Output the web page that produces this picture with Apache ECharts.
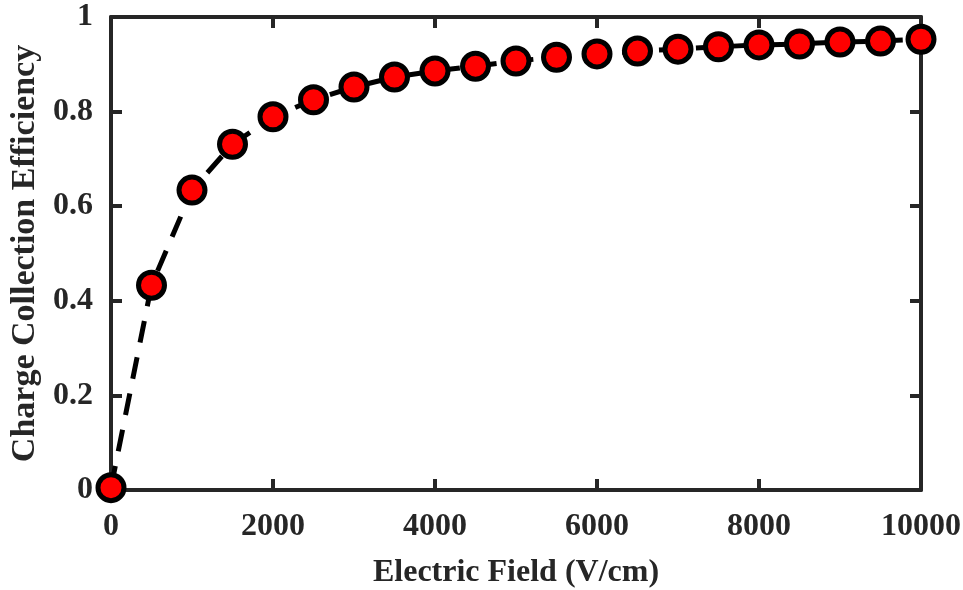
<!DOCTYPE html>
<html>
<head>
<meta charset="utf-8">
<script src="https://cdn.jsdelivr.net/npm/echarts@6/dist/echarts.min.js"></script>
<style>
html,body{margin:0;padding:0;background:#fff;}
#chart{width:963px;height:590px;}
</style>
</head>
<body>
<div id="chart"></div>
<script>
// field values (V/cm) and efficiency
var fields = [0, 500, 1000, 1500, 2000, 2500, 3000, 3500, 4000, 4500, 5000,
	5500, 6000, 6500, 7000, 7500, 8000, 8500, 9000, 9500, 10000];
var efficiency = [0.005, 0.433, 0.634, 0.731, 0.789, 0.825, 0.852, 0.873, 0.886, 0.896, 0.907,
	0.915, 0.922, 0.928, 0.932, 0.937, 0.941, 0.943, 0.947, 0.949, 0.953];
var xTicks = [0, 2000, 4000, 6000, 8000, 10000];
var yTicks = [0, 0.2, 0.4, 0.6, 0.8, 1];

var points = [];
for (var i = 0; i < fields.length; i++) {
	points.push([fields[i], efficiency[i]]);
}

var font = 'Liberation Serif, Times New Roman, serif';
var axisColor = '#262626';

var myChart = echarts.init(document.getElementById('chart'));
var option = {
	animation: false,
	backgroundColor: '#fff',
	grid: {
		left: 111,
		right: 42,
		top: 17,
		bottom: 100,
		containLabel: false,
		outerBoundsMode: 'none'
	},
	xAxis: [
		{
			type: 'value', min: 0, max: 10000, interval: 2000,
			name: 'Electric Field (V/cm)', nameLocation: 'middle', nameGap: 67,
			nameTextStyle: {color: axisColor, fontFamily: font, fontWeight: 'bold', fontSize: 32},
			axisLine: {onZero: false, lineStyle: {color: axisColor, width: 4}},
			axisTick: {inside: true, length: 11, lineStyle: {color: axisColor, width: 4}},
			axisLabel: {color: axisColor, fontFamily: font, fontWeight: 'bold', fontSize: 32, margin: 21,
				formatter: function (v) { return xTicks.indexOf(v) >= 0 ? String(v) : ''; }},
			splitLine: {show: false}
		},
		{
			type: 'value', min: 0, max: 10000, interval: 2000, position: 'top',
			axisLine: {show: true, onZero: false, lineStyle: {color: axisColor, width: 4}},
			axisTick: {show: true, inside: true, length: 11, lineStyle: {color: axisColor, width: 4}},
			axisLabel: {show: false},
			splitLine: {show: false}
		}
	],
	yAxis: [
		{
			type: 'value', min: 0, max: 1, interval: 0.2,
			name: 'Charge Collection Efficiency', nameLocation: 'middle', nameGap: 68,
			nameTextStyle: {color: axisColor, fontFamily: font, fontWeight: 'bold', fontSize: 34},
			axisLine: {onZero: false, lineStyle: {color: axisColor, width: 4}},
			axisTick: {inside: true, length: 11, lineStyle: {color: axisColor, width: 4}},
			axisLabel: {color: axisColor, fontFamily: font, fontWeight: 'bold', fontSize: 32, margin: 18,
				formatter: function (v) {
					var r = Math.round(v * 10) / 10;
					return r === 0 ? '0' : (r === 1 ? '1' : r.toFixed(1));
				}},
			splitLine: {show: false}
		},
		{
			type: 'value', min: 0, max: 1, interval: 0.2, position: 'right',
			axisLine: {show: true, onZero: false, lineStyle: {color: axisColor, width: 4}},
			axisTick: {show: true, inside: true, length: 11, lineStyle: {color: axisColor, width: 4}},
			axisLabel: {show: false},
			splitLine: {show: false}
		}
	],
	series: [
		{
			type: 'line',
			data: points,
			symbol: 'circle',
			symbolSize: 26,
			clip: false,
			lineStyle: {color: '#000', width: 5, type: [22, 15]},
			itemStyle: {color: '#ff0000', borderColor: '#000', borderWidth: 5},
			z: 5
		}
	]
};
myChart.setOption(option);
</script>
</body>
</html>
